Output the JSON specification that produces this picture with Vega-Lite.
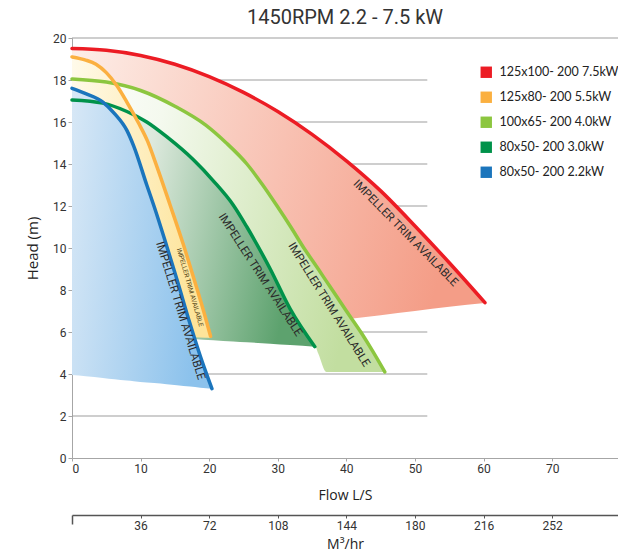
{
  "$schema": "https://vega.github.io/schema/vega-lite/v6.json",
  "width": 546,
  "height": 420,
  "autosize": "none",
  "padding": {"left": 72, "top": 38, "right": 0, "bottom": 98},
  "background": "white",
  "title": {"text": "1450RPM 2.2 - 7.5 kW", "font": "Roboto", "fontSize": 20, "fontWeight": "normal", "color": "#333333", "anchor": "middle", "offset": 4},
  "config": {"view": {"stroke": null}, "font": "Roboto"},
  "datasets": {
    "grid": [
      {"y": 2, "x": 0, "x2": 51.8}, {"y": 4, "x": 0, "x2": 51.8}, {"y": 6, "x": 0, "x2": 51.8},
      {"y": 8, "x": 0, "x2": 51.8}, {"y": 10, "x": 0, "x2": 51.8}, {"y": 12, "x": 0, "x2": 51.8},
      {"y": 14, "x": 0, "x2": 51.8}, {"y": 16, "x": 0, "x2": 51.8}, {"y": 18, "x": 0, "x2": 51.8},
      {"y": 20, "x": 0, "x2": 79.6}
    ],
    "curves": [
      {"s": "r", "name": "125x100- 200 7.5kW", "x": 0, "y": 19.5, "y2": 5.03},
      {"s": "r", "name": "125x100- 200 7.5kW", "x": 5, "y": 19.42, "y2": 5.23},
      {"s": "r", "name": "125x100- 200 7.5kW", "x": 10, "y": 19.17, "y2": 5.42},
      {"s": "r", "name": "125x100- 200 7.5kW", "x": 15, "y": 18.75, "y2": 5.62},
      {"s": "r", "name": "125x100- 200 7.5kW", "x": 20, "y": 18.16, "y2": 5.82},
      {"s": "r", "name": "125x100- 200 7.5kW", "x": 25, "y": 17.41, "y2": 6.02},
      {"s": "r", "name": "125x100- 200 7.5kW", "x": 30, "y": 16.5, "y2": 6.21},
      {"s": "r", "name": "125x100- 200 7.5kW", "x": 35, "y": 15.41, "y2": 6.41},
      {"s": "r", "name": "125x100- 200 7.5kW", "x": 40, "y": 14.15, "y2": 6.61},
      {"s": "r", "name": "125x100- 200 7.5kW", "x": 45, "y": 12.72, "y2": 6.8},
      {"s": "r", "name": "125x100- 200 7.5kW", "x": 50, "y": 11.05, "y2": 7.0},
      {"s": "r", "name": "125x100- 200 7.5kW", "x": 55, "y": 9.3, "y2": 7.2},
      {"s": "r", "name": "125x100- 200 7.5kW", "x": 60.2, "y": 7.4, "y2": 7.38},

      {"s": "o", "name": "125x80- 200 5.5kW", "x": 0, "y": 19.1, "y2": 5.95},
      {"s": "o", "name": "125x80- 200 5.5kW", "x": 2, "y": 18.95, "y2": 5.93},
      {"s": "o", "name": "125x80- 200 5.5kW", "x": 3.5, "y": 18.75, "y2": 5.91},
      {"s": "o", "name": "125x80- 200 5.5kW", "x": 5, "y": 18.35, "y2": 5.89},
      {"s": "o", "name": "125x80- 200 5.5kW", "x": 6.5, "y": 17.75, "y2": 5.88},
      {"s": "o", "name": "125x80- 200 5.5kW", "x": 8, "y": 16.95, "y2": 5.86},
      {"s": "o", "name": "125x80- 200 5.5kW", "x": 9.7, "y": 15.95, "y2": 5.84},
      {"s": "o", "name": "125x80- 200 5.5kW", "x": 11, "y": 15.1, "y2": 5.82},
      {"s": "o", "name": "125x80- 200 5.5kW", "x": 12.3, "y": 13.95, "y2": 5.81},
      {"s": "o", "name": "125x80- 200 5.5kW", "x": 14.3, "y": 12.05, "y2": 5.79},
      {"s": "o", "name": "125x80- 200 5.5kW", "x": 16.2, "y": 10.2, "y2": 5.77},
      {"s": "o", "name": "125x80- 200 5.5kW", "x": 17.9, "y": 8.4, "y2": 5.75},
      {"s": "o", "name": "125x80- 200 5.5kW", "x": 19.4, "y": 6.75, "y2": 5.73},
      {"s": "o", "name": "125x80- 200 5.5kW", "x": 20.2, "y": 5.8, "y2": 5.72},

      {"s": "lg", "name": "100x65- 200 4.0kW", "x": 0, "y": 18.05, "y2": 6.2},
      {"s": "lg", "name": "100x65- 200 4.0kW", "x": 5, "y": 17.9, "y2": 6.08},
      {"s": "lg", "name": "100x65- 200 4.0kW", "x": 10, "y": 17.5, "y2": 5.96},
      {"s": "lg", "name": "100x65- 200 4.0kW", "x": 15, "y": 16.75, "y2": 5.84},
      {"s": "lg", "name": "100x65- 200 4.0kW", "x": 19.5, "y": 15.85, "y2": 5.73},
      {"s": "lg", "name": "100x65- 200 4.0kW", "x": 22.5, "y": 15.0, "y2": 5.66},
      {"s": "lg", "name": "100x65- 200 4.0kW", "x": 25.5, "y": 14.0, "y2": 5.59},
      {"s": "lg", "name": "100x65- 200 4.0kW", "x": 27.7, "y": 13.05, "y2": 5.54},
      {"s": "lg", "name": "100x65- 200 4.0kW", "x": 29.9, "y": 12.0, "y2": 5.48},
      {"s": "lg", "name": "100x65- 200 4.0kW", "x": 31.9, "y": 11.0, "y2": 5.43},
      {"s": "lg", "name": "100x65- 200 4.0kW", "x": 33.8, "y": 10.0, "y2": 5.39},
      {"s": "lg", "name": "100x65- 200 4.0kW", "x": 35.4, "y": 9.24, "y2": 5.35},
      {"s": "lg", "name": "100x65- 200 4.0kW", "x": 35.9, "y": 9.0, "y2": 4.98},
      {"s": "lg", "name": "100x65- 200 4.0kW", "x": 37.1, "y": 8.41, "y2": 4.1},
      {"s": "lg", "name": "100x65- 200 4.0kW", "x": 37.95, "y": 8.0, "y2": 4.1},
      {"s": "lg", "name": "100x65- 200 4.0kW", "x": 40.0, "y": 7.0, "y2": 4.1},
      {"s": "lg", "name": "100x65- 200 4.0kW", "x": 42.1, "y": 6.0, "y2": 4.1},
      {"s": "lg", "name": "100x65- 200 4.0kW", "x": 43.9, "y": 5.05, "y2": 4.1},
      {"s": "lg", "name": "100x65- 200 4.0kW", "x": 45.6, "y": 4.1, "y2": 4.1},

      {"s": "dg", "name": "80x50- 200 3.0kW", "x": 0, "y": 17.05, "y2": 6.05},
      {"s": "dg", "name": "80x50- 200 3.0kW", "x": 4.5, "y": 16.9, "y2": 5.95},
      {"s": "dg", "name": "80x50- 200 3.0kW", "x": 8, "y": 16.5, "y2": 5.88},
      {"s": "dg", "name": "80x50- 200 3.0kW", "x": 10.9, "y": 16.0, "y2": 5.82},
      {"s": "dg", "name": "80x50- 200 3.0kW", "x": 13.8, "y": 15.3, "y2": 5.76},
      {"s": "dg", "name": "80x50- 200 3.0kW", "x": 17.7, "y": 14.2, "y2": 5.67},
      {"s": "dg", "name": "80x50- 200 3.0kW", "x": 20.6, "y": 13.2, "y2": 5.61},
      {"s": "dg", "name": "80x50- 200 3.0kW", "x": 23.5, "y": 12.05, "y2": 5.55},
      {"s": "dg", "name": "80x50- 200 3.0kW", "x": 25.5, "y": 11.0, "y2": 5.51},
      {"s": "dg", "name": "80x50- 200 3.0kW", "x": 28.9, "y": 9.0, "y2": 5.44},
      {"s": "dg", "name": "80x50- 200 3.0kW", "x": 31.8, "y": 7.1, "y2": 5.38},
      {"s": "dg", "name": "80x50- 200 3.0kW", "x": 35.4, "y": 5.3, "y2": 5.3},

      {"s": "b", "name": "80x50- 200 2.2kW", "x": 0, "y": 17.6, "y2": 3.95},
      {"s": "b", "name": "80x50- 200 2.2kW", "x": 2, "y": 17.35, "y2": 3.89},
      {"s": "b", "name": "80x50- 200 2.2kW", "x": 4.5, "y": 16.95, "y2": 3.81},
      {"s": "b", "name": "80x50- 200 2.2kW", "x": 6.2, "y": 16.4, "y2": 3.75},
      {"s": "b", "name": "80x50- 200 2.2kW", "x": 8, "y": 15.6, "y2": 3.69},
      {"s": "b", "name": "80x50- 200 2.2kW", "x": 9, "y": 14.85, "y2": 3.66},
      {"s": "b", "name": "80x50- 200 2.2kW", "x": 10.9, "y": 13.0, "y2": 3.6},
      {"s": "b", "name": "80x50- 200 2.2kW", "x": 12, "y": 11.95, "y2": 3.57},
      {"s": "b", "name": "80x50- 200 2.2kW", "x": 13.8, "y": 10.1, "y2": 3.51},
      {"s": "b", "name": "80x50- 200 2.2kW", "x": 15.3, "y": 8.5, "y2": 3.46},
      {"s": "b", "name": "80x50- 200 2.2kW", "x": 17.2, "y": 6.4, "y2": 3.4},
      {"s": "b", "name": "80x50- 200 2.2kW", "x": 18.7, "y": 4.85, "y2": 3.35},
      {"s": "b", "name": "80x50- 200 2.2kW", "x": 20.4, "y": 3.3, "y2": 3.3}
    ],
    "labels": [
      {"k": "r", "x": 48.6, "y": 10.69, "t": "IMPELLER TRIM AVAILABLE"},
      {"k": "lg", "x": 37.4, "y": 7.29, "t": "IMPELLER TRIM AVAILABLE"},
      {"k": "dg", "x": 27.4, "y": 8.71, "t": "IMPELLER TRIM AVAILABLE"},
      {"k": "b", "x": 15.74, "y": 7.01, "t": "IMPELLER TRIM AVAILABLE"},
      {"k": "o", "x": 17.2, "y": 8.12, "t": "IMPELLER TRIM AVAILABLE"}
    ],
    "m3": [{"m": 0}, {"m": 286.56}]
  },
  "layer": [
    {
      "layer": [
        {
          "data": {"name": "grid"},
          "mark": {"type": "rule", "color": "#9d9d9d", "strokeWidth": 1},
          "encoding": {
            "x": {"field": "x", "type": "quantitative", "scale": {"domain": [0, 79.6], "nice": false, "zero": false},
              "axis": {"title": "Flow L/S", "values": [0, 10, 20, 30, 40, 50, 60, 70], "grid": false, "domainColor": "#a6a6a6", "ticks": true, "tickSize": 3, "tickColor": "#a6a6a6", "labelFont": "Roboto", "labelFontSize": 12, "labelColor": "#333333", "labelPadding": 2, "titleFont": "Open Sans", "titleFontSize": 14, "titleFontWeight": "normal", "titleColor": "#222222", "titlePadding": 14}},
            "x2": {"field": "x2"},
            "y": {"field": "y", "type": "quantitative", "scale": {"domain": [0, 20], "nice": false},
              "axis": {"title": "Head (m)", "values": [0, 2, 4, 6, 8, 10, 12, 14, 16, 18, 20], "grid": false, "domainColor": "#a6a6a6", "tickColor": "#a6a6a6", "tickSize": 4, "labelFont": "Roboto", "labelFontSize": 12, "labelColor": "#333333", "labelPadding": 2, "titleFont": "Open Sans", "titleFontSize": 15, "titleFontWeight": "normal", "titleColor": "#222222", "titlePadding": 12}}
          }
        },
        {
          "data": {"name": "curves"},
          "transform": [{"filter": "datum.s == 'r'"}],
          "mark": {"type": "area", "interpolate": "monotone", "color": {"gradient": "linear", "x1": 0, "y1": 0, "x2": 1, "y2": 0.2, "stops": [{"offset": 0, "color": "#fdeee8"}, {"offset": 1, "color": "#f49d87"}]}},
          "encoding": {"x": {"field": "x", "type": "quantitative"}, "y": {"field": "y", "type": "quantitative"}, "y2": {"field": "y2"}}
        },
        {
          "data": {"name": "curves"},
          "transform": [{"filter": "datum.s == 'lg'"}],
          "mark": {"type": "area", "interpolate": "monotone", "color": {"gradient": "linear", "x1": 0, "y1": 0, "x2": 1, "y2": 0.2, "stops": [{"offset": 0, "color": "#ffffff"}, {"offset": 0.3, "color": "#f4f9ee"}, {"offset": 1, "color": "#c2dea0"}]}},
          "encoding": {"x": {"field": "x", "type": "quantitative"}, "y": {"field": "y", "type": "quantitative"}, "y2": {"field": "y2"}}
        },
        {
          "data": {"name": "curves"},
          "transform": [{"filter": "datum.s == 'dg'"}],
          "mark": {"type": "area", "interpolate": "monotone", "color": {"gradient": "linear", "x1": 0, "y1": 0, "x2": 1, "y2": 0.2, "stops": [{"offset": 0, "color": "#f3f6f1"}, {"offset": 0.35, "color": "#dde9dd"}, {"offset": 1, "color": "#5da26e"}]}},
          "encoding": {"x": {"field": "x", "type": "quantitative"}, "y": {"field": "y", "type": "quantitative"}, "y2": {"field": "y2"}}
        },
        {
          "data": {"name": "curves"},
          "transform": [{"filter": "datum.s == 'o'"}],
          "mark": {"type": "area", "interpolate": "monotone", "color": {"gradient": "linear", "x1": 0, "y1": 0, "x2": 1, "y2": 0.2, "stops": [{"offset": 0, "color": "#fffaea"}, {"offset": 1, "color": "#fde49a"}]}},
          "encoding": {"x": {"field": "x", "type": "quantitative"}, "y": {"field": "y", "type": "quantitative"}, "y2": {"field": "y2"}}
        },
        {
          "data": {"name": "curves"},
          "transform": [{"filter": "datum.s == 'b'"}],
          "mark": {"type": "area", "interpolate": "monotone", "color": {"gradient": "linear", "x1": 0, "y1": 0, "x2": 1, "y2": 0.2, "stops": [{"offset": 0, "color": "#d8e8f6"}, {"offset": 1, "color": "#8cc2ec"}]}},
          "encoding": {"x": {"field": "x", "type": "quantitative"}, "y": {"field": "y", "type": "quantitative"}, "y2": {"field": "y2"}}
        },
        {
          "data": {"name": "curves"},
          "transform": [{"filter": "datum.s == 'r'"}],
          "mark": {"type": "line", "interpolate": "monotone", "color": "#ec1c24", "strokeWidth": 3.5, "strokeCap": "round"},
          "encoding": {"x": {"field": "x", "type": "quantitative"}, "y": {"field": "y", "type": "quantitative"}}
        },
        {
          "data": {"name": "curves"},
          "transform": [{"filter": "datum.s == 'lg'"}],
          "mark": {"type": "line", "interpolate": "monotone", "color": "#8cc63f", "strokeWidth": 3.5, "strokeCap": "round"},
          "encoding": {"x": {"field": "x", "type": "quantitative"}, "y": {"field": "y", "type": "quantitative"}}
        },
        {
          "data": {"name": "curves"},
          "transform": [{"filter": "datum.s == 'dg'"}],
          "mark": {"type": "line", "interpolate": "monotone", "color": "#00924a", "strokeWidth": 3.5, "strokeCap": "round"},
          "encoding": {"x": {"field": "x", "type": "quantitative"}, "y": {"field": "y", "type": "quantitative"}}
        },
        {
          "data": {"name": "curves"},
          "transform": [{"filter": "datum.s == 'o'"}],
          "mark": {"type": "line", "interpolate": "monotone", "color": "#fbb040", "strokeWidth": 3.5, "strokeCap": "round"},
          "encoding": {"x": {"field": "x", "type": "quantitative"}, "y": {"field": "y", "type": "quantitative"}}
        },
        {
          "data": {"name": "curves"},
          "transform": [{"filter": "datum.s == 'b'"}],
          "mark": {"type": "line", "interpolate": "monotone", "color": "#1b75bc", "strokeWidth": 3.5, "strokeCap": "round"},
          "encoding": {"x": {"field": "x", "type": "quantitative"}, "y": {"field": "y", "type": "quantitative"}}
        },
        {
          "data": {"name": "curves"},
          "transform": [{"filter": "datum.x == 0"}],
          "mark": {"type": "square", "opacity": 0, "filled": true},
          "encoding": {
            "x": {"field": "x", "type": "quantitative"},
            "y": {"field": "y", "type": "quantitative"},
            "color": {"field": "name", "type": "nominal",
              "scale": {"domain": ["125x100- 200 7.5kW", "125x80- 200 5.5kW", "100x65- 200 4.0kW", "80x50- 200 3.0kW", "80x50- 200 2.2kW"], "range": ["#ec1c24", "#fbb040", "#8cc63f", "#00924a", "#1b75bc"]},
              "legend": {"title": null, "orient": "none", "legendX": 408, "legendY": 28, "symbolType": "square", "symbolSize": 130, "symbolOpacity": 1, "symbolStrokeWidth": 0, "labelFont": "Lato", "labelFontSize": 12.5, "labelColor": "#222222", "labelOffset": 7, "rowPadding": 12, "padding": 0}}
          }
        },
        {
          "data": {"name": "labels"},
          "transform": [{"filter": "datum.k == 'r'"}],
          "mark": {"type": "text", "angle": 45.5, "font": "Roboto", "fontSize": 11.5, "color": "#2a2a2a", "align": "center", "baseline": "middle"},
          "encoding": {"x": {"field": "x", "type": "quantitative"}, "y": {"field": "y", "type": "quantitative"}, "text": {"field": "t"}}
        },
        {
          "data": {"name": "labels"},
          "transform": [{"filter": "datum.k == 'lg'"}],
          "mark": {"type": "text", "angle": 58, "font": "Roboto", "fontSize": 11.5, "color": "#2a2a2a", "align": "center", "baseline": "middle"},
          "encoding": {"x": {"field": "x", "type": "quantitative"}, "y": {"field": "y", "type": "quantitative"}, "text": {"field": "t"}}
        },
        {
          "data": {"name": "labels"},
          "transform": [{"filter": "datum.k == 'dg'"}],
          "mark": {"type": "text", "angle": 57, "font": "Roboto", "fontSize": 11.5, "color": "#2a2a2a", "align": "center", "baseline": "middle"},
          "encoding": {"x": {"field": "x", "type": "quantitative"}, "y": {"field": "y", "type": "quantitative"}, "text": {"field": "t"}}
        },
        {
          "data": {"name": "labels"},
          "transform": [{"filter": "datum.k == 'b'"}],
          "mark": {"type": "text", "angle": 73, "font": "Roboto", "fontSize": 11.5, "color": "#2a2a2a", "align": "center", "baseline": "middle"},
          "encoding": {"x": {"field": "x", "type": "quantitative"}, "y": {"field": "y", "type": "quantitative"}, "text": {"field": "t"}}
        },
        {
          "data": {"name": "labels"},
          "transform": [{"filter": "datum.k == 'o'"}],
          "mark": {"type": "text", "angle": 74, "font": "Roboto", "fontSize": 6.5, "color": "#4a3a10", "align": "center", "baseline": "middle"},
          "encoding": {"x": {"field": "x", "type": "quantitative"}, "y": {"field": "y", "type": "quantitative"}, "text": {"field": "t"}}
        }
      ]
    },
    {
      "data": {"name": "m3"},
      "mark": {"type": "point", "opacity": 0},
      "encoding": {
        "x": {"field": "m", "type": "quantitative", "scale": {"domain": [0, 286.56], "nice": false, "zero": false},
          "axis": {"orient": "bottom", "offset": 57, "title": "M³/hr", "values": [0, 36, 72, 108, 144, 180, 216, 252], "labelExpr": "datum.value == 0 ? '' : datum.label", "grid": false, "domainColor": "#555555", "domainWidth": 1.5, "tickColor": "#555555", "tickSize": {"condition": {"test": "datum.value == 0", "value": 9}, "value": 3}, "tickWidth": {"condition": {"test": "datum.value == 0", "value": 1.5}, "value": 1}, "labelFont": "Roboto", "labelFontSize": 12, "labelColor": "#333333", "labelPadding": 2, "titleFont": "Open Sans", "titleFontSize": 14, "titleFontWeight": "normal", "titleColor": "#222222", "titlePadding": 6}}
      }
    }
  ],
  "resolve": {"scale": {"x": "independent"}, "axis": {"x": "independent"}}
}
